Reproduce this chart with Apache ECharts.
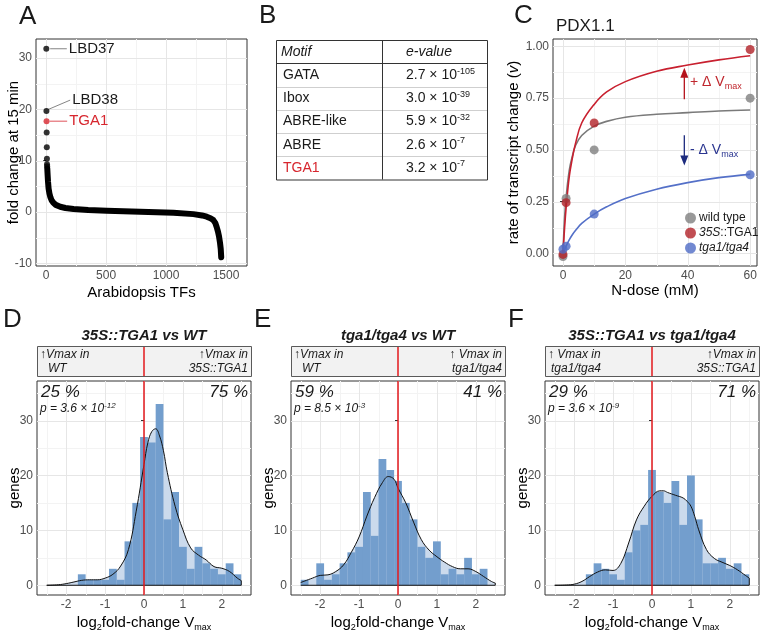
<!DOCTYPE html>
<html>
<head>
<meta charset="utf-8">
<script src="https://cdn.jsdelivr.net/npm/echarts@6/dist/echarts.min.js"></script>
<style>
html, body { margin: 0; padding: 0; background: #fff; }
#fig { width: 762px; height: 636px; }
</style>
</head>
<body>
<div id="fig"></div>
<script>
var FONT = 'Liberation Sans';
var RED = '#d7262e';

/* A - fold change of Arabidopsis TFs, ranked */
var tfTopRank = [1, 2, 4, 5, 6, 7, 8];
var tfTopFold = [31.8, 19.7, 15.5, 12.6, 10.4, 9.3, 8.9];
var tga1Point = [3, 17.7];
var tfBandRank = [9, 12, 15, 20, 27, 35, 45, 60, 80, 117, 160, 228, 350, 505, 783, 1061, 1228, 1300, 1339, 1370, 1394, 1410, 1422, 1433, 1442, 1450, 1456, 1460];
var tfBandFold = [8.5, 7.2, 6.0, 4.6, 3.6, 2.9, 2.3, 1.8, 1.4, 1.04, 0.8, 0.6, 0.4, 0.26, 0.06, -0.13, -0.4, -0.65, -0.9, -1.2, -1.56, -2.1, -2.9, -3.8, -4.8, -6.0, -7.2, -8.8];
var tfLabels = ['LBD37', 'LBD38', 'TGA1'];
var tfLabelFrom = [[33, 31.8], [19, 20.0], [30, 17.7]];
var tfLabelTo = [[172, 31.8], [200, 21.8], [175, 17.7]];

/* B - motif table */
var motifNames = ['GATA', 'Ibox', 'ABRE-like', 'ABRE', 'TGA1'];
var motifMant = ['2.7', '3.0', '5.9', '2.6', '3.2'];
var motifExp = ['-105', '-39', '-32', '-7', '-7'];

/* C - PDX1.1 rate vs N dose */
var doseObs = [0, 1, 10, 60];
var rateWT = [-0.015, 0.265, 0.50, 0.75];
var rate35S = [-0.005, 0.245, 0.63, 0.985];
var rateTga = [0.02, 0.035, 0.19, 0.38];
var doseFit = [0, 0.5, 1, 2, 3, 4, 6, 10, 14, 20, 30, 40, 50, 60];
var fitWT = [0, 0.17, 0.27, 0.40, 0.47, 0.52, 0.57, 0.615, 0.638, 0.658, 0.672, 0.68, 0.688, 0.693];
var fit35S = [0, 0.12, 0.22, 0.37, 0.46, 0.53, 0.63, 0.72, 0.78, 0.83, 0.88, 0.91, 0.935, 0.955];
var fitTga = [0, 0.018, 0.035, 0.065, 0.09, 0.11, 0.145, 0.19, 0.225, 0.265, 0.31, 0.342, 0.366, 0.382];

/* D-F - histograms of log2 fold-change Vmax */
var binMid = [-2.4, -2.2, -2.0, -1.8, -1.6, -1.4, -1.2, -1.0, -0.8, -0.6, -0.4, -0.2, 0, 0.2, 0.4, 0.6, 0.8, 1.0, 1.2, 1.4, 1.6, 1.8, 2.0, 2.2, 2.4];
var countsD = [0, 0, 0, 0, 2, 1, 1, 1, 3, 1, 8, 15, 27, 26, 33, 12, 17, 7, 3, 7, 4, 3, 2, 4, 2];
var countsE = [1, 0, 4, 1, 2, 4, 6, 7, 17, 9, 23, 21, 19, 15, 12, 7, 5, 8, 2, 3, 2, 5, 2, 3, 0];
var countsF = [0, 0, 0, 0, 2, 4, 3, 2, 1, 6, 10, 11, 21, 17, 15, 19, 11, 20, 12, 4, 4, 5, 3, 4, 2];
var densXD = [-2.5, -2.2, -2.0, -1.8, -1.6, -1.4, -1.2, -1.0, -0.8, -0.6, -0.4, -0.2, 0, 0.1, 0.2, 0.3, 0.4, 0.5, 0.6, 0.8, 1.0, 1.2, 1.4, 1.6, 1.8, 2.0, 2.2, 2.4, 2.5];
var densYD = [0, 0.1, 0.3, 0.6, 0.9, 1.0, 1.0, 1.3, 2.0, 3.5, 6.5, 13.5, 22, 26, 28, 28.5, 27.2, 24.5, 20.5, 14.4, 10.1, 6.8, 5.5, 4.6, 3.4, 3.1, 2.5, 1.3, 0.85];
var densXE = [-2.5, -2.2, -2.0, -1.8, -1.6, -1.4, -1.2, -1.0, -0.8, -0.6, -0.4, -0.25, -0.1, 0, 0.2, 0.4, 0.6, 0.8, 1.0, 1.2, 1.4, 1.6, 1.8, 2.0, 2.2, 2.4, 2.5];
var densYE = [0.5, 1.3, 1.8, 1.9, 2.5, 3.7, 6.0, 8.8, 12.6, 16.0, 18.7, 19.8, 19.3, 17.7, 15, 11.5, 8.3, 6.4, 5.2, 4.2, 3.4, 3.0, 3.0, 2.5, 1.6, 0.7, 0.4];
var densXF = [-2.5, -2.2, -2.0, -1.8, -1.6, -1.4, -1.2, -1.0, -0.8, -0.6, -0.4, -0.2, 0, 0.2, 0.3, 0.4, 0.6, 0.8, 0.9, 1.0, 1.1, 1.2, 1.4, 1.6, 1.8, 2.0, 2.2, 2.4, 2.5];
var densYF = [0, 0.05, 0.2, 0.7, 1.6, 2.4, 2.8, 2.7, 4.0, 7.7, 11.9, 14.4, 16.2, 17.2, 17.2, 16.9, 16.4, 15.9, 15.3, 14.4, 12.5, 10.1, 6.5, 4.9, 4.2, 3.6, 2.8, 1.8, 1.3];

var panels = [
    {title: '{b|35S::TGA1 vs WT}', counts: countsD, dx: densXD, dy: densYD,
     left: ['\u2191Vmax in', 'WT'], leftIndent: 11, right: ['\u2191Vmax in', '35S::TGA1'],
     pctL: '25 %', pctR: '75 %', pMant: '3.6', pExp: '-12'},
    {title: '{b|tga1/tga4 vs WT}', counts: countsE, dx: densXE, dy: densYE,
     left: ['\u2191Vmax in', 'WT'], leftIndent: 11, right: ['\u2191 Vmax in', 'tga1/tga4'],
     pctL: '59 %', pctR: '41 %', pMant: '8.5', pExp: '-3'},
    {title: '{b|35S::TGA1 vs tga1/tga4}', counts: countsF, dx: densXF, dy: densYF,
     left: ['\u2191 Vmax in', 'tga1/tga4'], leftIndent: 6, right: ['\u2191Vmax in', '35S::TGA1'],
     pctL: '29 %', pctR: '71 %', pMant: '3.6', pExp: '-9'}
];

var grids = [
    {left: 36, top: 39, width: 211, height: 227},
    {left: 553, top: 39, width: 204, height: 227},
    {left: 37, top: 381, width: 214, height: 214},
    {left: 291, top: 381, width: 214, height: 214},
    {left: 545, top: 381, width: 214, height: 214}
];

function zip(a, b) {
    return a.map(function (v, i) { return [v, b[i]]; });
}

function axis(gi, min, max, ticks, name, gap, fmt) {
    return {
        type: 'value', gridIndex: gi, min: min, max: max,
        axisLine: {show: false},
        axisTick: {show: true, length: 3, lineStyle: {color: '#333'}, customValues: ticks},
        axisLabel: {customValues: ticks, color: '#4d4d4d', fontSize: 12, fontFamily: FONT, margin: 4,
                    formatter: fmt || function (v) { return String(v); }},
        splitLine: {show: false},
        name: name, nameLocation: 'middle', nameGap: gap, nameMoveOverlap: false,
        nameTextStyle: {fontFamily: FONT, fontSize: 15, color: '#000',
            rich: {
                t: {fontFamily: FONT, fontSize: 15, color: '#000', lineHeight: 18},
                i: {fontFamily: FONT, fontSize: 15, color: '#000', fontStyle: 'italic', lineHeight: 18},
                s: {fontFamily: FONT, fontSize: 9, color: '#000', verticalAlign: 'bottom', lineHeight: 11}
            }}
    };
}

function gridLines(gi, mx, nx, my, ny) {
    var data = [];
    nx.forEach(function (v) { data.push([0, v, 1]); });
    ny.forEach(function (v) { data.push([1, v, 1]); });
    mx.forEach(function (v) { data.push([0, v, 0]); });
    my.forEach(function (v) { data.push([1, v, 0]); });
    return {
        type: 'custom', xAxisIndex: gi, yAxisIndex: gi, z: 1, silent: true, data: data,
        renderItem: function (params, api) {
            var cs = params.coordSys, v = api.value(1), minor = api.value(2) === 1, shape;
            if (api.value(0) === 0) {
                var x = Math.round(api.coord([v, 0])[0]) + 0.5;
                shape = {x1: x, y1: cs.y, x2: x, y2: cs.y + cs.height};
            } else {
                var y = Math.round(api.coord([0, v])[1]) + 0.5;
                shape = {x1: cs.x, y1: y, x2: cs.x + cs.width, y2: y};
            }
            return {type: 'line', shape: shape, style: {stroke: minor ? '#f3f3f3' : '#e6e6e6', lineWidth: 1}};
        }
    };
}

var xAxes = [], yAxes = [], series = [], graphic = [];

/* ---------- A ---------- */
xAxes.push(axis(0, -85, 1675, [0, 500, 1000, 1500], 'Arabidopsis TFs', 19));
yAxes.push(axis(0, -10.5, 33.7, [-10, 0, 10, 20, 30], 'fold change at 15 min', 15));
series.push(gridLines(0, [0, 500, 1000, 1500], [250, 750, 1250], [-10, 0, 10, 20, 30], [-5, 5, 15, 25]));
series.push({
    type: 'line', xAxisIndex: 0, yAxisIndex: 0, z: 3, silent: true, symbol: 'none',
    data: zip(tfBandRank, tfBandFold),
    lineStyle: {color: '#000', width: 6, cap: 'round', join: 'round'}
});
series.push({
    type: 'scatter', xAxisIndex: 0, yAxisIndex: 0, z: 3, silent: true, symbolSize: 6,
    data: zip(tfTopRank, tfTopFold), itemStyle: {color: '#000'}
});
series.push({
    type: 'scatter', xAxisIndex: 0, yAxisIndex: 0, z: 4, silent: true, symbolSize: 6,
    data: [tga1Point], itemStyle: {color: RED}
});
tfLabels.forEach(function (lab, i) {
    var isRed = lab === 'TGA1';
    series.push({
        type: 'line', xAxisIndex: 0, yAxisIndex: 0, z: 2, silent: true, symbol: 'none',
        data: [tfLabelFrom[i], tfLabelTo[i]],
        lineStyle: {color: isRed ? RED : '#666', width: 0.8},
        endLabel: {show: true, formatter: lab, fontFamily: FONT, fontSize: 15,
                   color: isRed ? RED : '#1a1a1a', distance: 2}
    });
});

/* ---------- C ---------- */
var cWT = '#7f7f7f', c35 = '#b22228', cTga = '#4f6cc6';
xAxes.push(axis(1, -3.2, 62.2, [0, 20, 40, 60], 'N-dose (mM)', 17));
yAxes.push(axis(1, -0.061, 1.036, [0, 0.25, 0.5, 0.75, 1], '{t|rate of transcript change (}{i|v}{t|)}', 30,
    function (v) { return v.toFixed(2); }));
series.push(gridLines(1, [0, 20, 40, 60], [10, 30, 50], [0, 0.25, 0.5, 0.75, 1], [0.125, 0.375, 0.625, 0.875]));
[[fitWT, '#7a7a7a'], [fit35S, '#c8202f'], [fitTga, '#5470c8']].forEach(function (f) {
    series.push({
        type: 'line', xAxisIndex: 1, yAxisIndex: 1, z: 3, silent: true, symbol: 'none', smooth: 0.4,
        data: zip(doseFit, f[0]), lineStyle: {color: f[1], width: 1.6}
    });
});
[['wild type', rateWT, cWT], ['35S::TGA1', rate35S, c35], ['tga1/tga4', rateTga, cTga]].forEach(function (s) {
    series.push({
        type: 'scatter', name: s[0], xAxisIndex: 1, yAxisIndex: 1, z: 4, silent: true, symbolSize: 9,
        data: zip(doseObs, s[1]), itemStyle: {color: s[2]}
    });
});
series.push({
    type: 'line', xAxisIndex: 1, yAxisIndex: 1, z: 4, silent: true,
    data: [{value: [38.9, 0.745], symbol: 'none'}, {value: [38.9, 0.873], symbol: 'triangle', symbolSize: [8, 10]}],
    lineStyle: {color: '#b5121b', width: 1.3}, itemStyle: {color: '#b5121b'}
});
series.push({
    type: 'line', xAxisIndex: 1, yAxisIndex: 1, z: 4, silent: true,
    data: [{value: [38.9, 0.571], symbol: 'none'}, {value: [38.9, 0.449], symbol: 'triangle', symbolSize: [8, 10], symbolRotate: 180}],
    lineStyle: {color: '#1d2b7e', width: 1.3}, itemStyle: {color: '#1d2b7e'}
});

/* ---------- D-F ---------- */
var BIN = binMid[1] - binMid[0];
panels.forEach(function (p, k) {
    var gi = 2 + k, g = grids[gi];
    xAxes.push(axis(gi, -2.75, 2.75, [-2, -1, 0, 1, 2], '{t|log}{s|2}{t|fold-change V}{s|max}', 19));
    yAxes.push(axis(gi, -1.77, 37.2, [0, 10, 20, 30], 'genes', 15));
    series.push(gridLines(gi, [-2, -1, 0, 1, 2], [-2.5, -1.5, -0.5, 0.5, 1.5, 2.5], [0, 10, 20, 30], [5, 15, 25, 35]));
    series.push({
        type: 'line', xAxisIndex: gi, yAxisIndex: gi, z: 2, silent: true, symbol: 'none', smooth: 0.4,
        data: zip(p.dx, p.dy), lineStyle: {width: 0, opacity: 0},
        areaStyle: {color: '#cbdaec', opacity: 1}
    });
    series.push({
        type: 'custom', xAxisIndex: gi, yAxisIndex: gi, z: 3, silent: true,
        data: zip(binMid, p.counts),
        renderItem: function (params, api) {
            var c = api.value(0), n = api.value(1);
            var a = api.coord([c - BIN / 2, n]), b = api.coord([c + BIN / 2, 0]);
            return {type: 'rect', shape: {x: a[0], y: a[1], width: b[0] - a[0], height: b[1] - a[1]},
                    style: {fill: '#739ecd'}};
        }
    });
    series.push({
        type: 'line', xAxisIndex: gi, yAxisIndex: gi, z: 4, silent: true, symbol: 'none', smooth: 0.4,
        data: zip(p.dx, p.dy), lineStyle: {color: '#111', width: 1}
    });
    var last = p.dx.length - 1;
    series.push({
        type: 'line', xAxisIndex: gi, yAxisIndex: gi, z: 4, silent: true, symbol: 'none',
        data: [[p.dx[0], 0], [p.dx[last], 0], [p.dx[last], p.dy[last]]], lineStyle: {color: '#111', width: 1}
    });
    series.push({
        type: 'custom', xAxisIndex: gi, yAxisIndex: gi, z: 5, silent: true, data: [[0, 0]],
        renderItem: function (params, api) {
            var cs = params.coordSys, x = api.coord([api.value(0), 0])[0];
            return {type: 'line', shape: {x1: x, y1: cs.y, x2: x, y2: cs.y + cs.height},
                    style: {stroke: '#e3191c', lineWidth: 1.5}};
        }
    });

    // strip above the panel
    var cx = g.left + g.width / 2, right = g.left + g.width;
    graphic.push({type: 'rect', z: 10, shape: {x: g.left + 0.5, y: 346.5, width: g.width, height: 30},
                  style: {fill: '#f2f2f2', stroke: '#5a5a5a', lineWidth: 1}});
    graphic.push({type: 'line', z: 11, shape: {x1: cx, y1: 347, x2: cx, y2: 376},
                  style: {stroke: '#e3191c', lineWidth: 1.5}});
    var st = {fontFamily: FONT, fontSize: 12, fontStyle: 'italic', fill: '#1a1a1a', textVerticalAlign: 'middle'};
    graphic.push({type: 'text', z: 11, style: Object.assign({text: p.left[0], x: g.left + 3, y: 354.5, textAlign: 'left'}, st)});
    graphic.push({type: 'text', z: 11, style: Object.assign({text: p.left[1], x: g.left + p.leftIndent, y: 369, textAlign: 'left'}, st)});
    graphic.push({type: 'text', z: 11, style: Object.assign({text: p.right[0], x: right - 3, y: 354.5, textAlign: 'right'}, st)});
    graphic.push({type: 'text', z: 11, style: Object.assign({text: p.right[1], x: right - 3, y: 369, textAlign: 'right'}, st)});
    // title
    graphic.push({type: 'text', z: 11, style: {text: p.title, x: cx, y: 336, textAlign: 'center', textVerticalAlign: 'middle',
        rich: {b: {fontFamily: FONT, fontSize: 15, fontStyle: 'italic', fontWeight: 'bold', fill: '#1a1a1a'}}}});
    // percentages and p-value
    var pst = {fontFamily: FONT, fontSize: 17, fontStyle: 'italic', fill: '#1a1a1a', textVerticalAlign: 'middle'};
    graphic.push({type: 'text', z: 11, style: Object.assign({text: p.pctL, x: g.left + 4, y: 392, textAlign: 'left'}, pst)});
    graphic.push({type: 'text', z: 11, style: Object.assign({text: p.pctR, x: right - 3, y: 392, textAlign: 'right'}, pst)});
    graphic.push({type: 'text', z: 11, style: {
        text: '{n|p = ' + p.pMant + ' \u00d7 10}{e|' + p.pExp + '}', x: g.left + 3, y: 409,
        textAlign: 'left', textVerticalAlign: 'middle',
        rich: {n: {fontFamily: FONT, fontSize: 12, fontStyle: 'italic', fill: '#1a1a1a', lineHeight: 15},
               e: {fontFamily: FONT, fontSize: 8, fontStyle: 'italic', fill: '#1a1a1a', verticalAlign: 'top', lineHeight: 9}}}});
});

/* ---------- B table ---------- */
var tX0 = 276, tX1 = 487, tXm = 382, tTop = 40, tHead = 63.5, tRow = 23.2;
var tBottom = tHead + tRow * motifNames.length;
graphic.push({type: 'rect', z: 10, shape: {x: tX0 + 0.5, y: tTop + 0.5, width: tX1 - tX0, height: tBottom - tTop},
              style: {fill: '#fff', stroke: '#333', lineWidth: 1}});
for (var r = 1; r < motifNames.length; r++) {
    var ly = Math.round(tHead + tRow * r) + 0.5;
    graphic.push({type: 'line', z: 11, shape: {x1: tX0 + 1, y1: ly, x2: tX1, y2: ly}, style: {stroke: '#cfcfcf', lineWidth: 1}});
}
graphic.push({type: 'line', z: 12, shape: {x1: tX0, y1: tHead, x2: tX1, y2: tHead}, style: {stroke: '#333', lineWidth: 1}});
graphic.push({type: 'line', z: 12, shape: {x1: tXm + 0.5, y1: tTop, x2: tXm + 0.5, y2: tBottom}, style: {stroke: '#333', lineWidth: 1}});
var hst = {fontFamily: FONT, fontSize: 14, fontStyle: 'italic', fill: '#1a1a1a', textVerticalAlign: 'middle', textAlign: 'left'};
graphic.push({type: 'text', z: 12, style: Object.assign({text: 'Motif', x: tX0 + 5, y: (tTop + tHead) / 2}, hst)});
graphic.push({type: 'text', z: 12, style: Object.assign({text: 'e-value', x: tXm + 24, y: (tTop + tHead) / 2}, hst)});
motifNames.forEach(function (m, i) {
    var cy = tHead + tRow * (i + 0.5);
    graphic.push({type: 'text', z: 12, style: {text: m, x: tX0 + 7, y: cy, fontFamily: FONT, fontSize: 14,
        fill: m === 'TGA1' ? RED : '#1a1a1a', textVerticalAlign: 'middle', textAlign: 'left'}});
    graphic.push({type: 'text', z: 12, style: {text: '{n|' + motifMant[i] + ' \u00d7 10}{e|' + motifExp[i] + '}',
        x: tXm + 24, y: cy, textVerticalAlign: 'middle', textAlign: 'left',
        rich: {n: {fontFamily: FONT, fontSize: 14, fill: '#1a1a1a', lineHeight: 17},
               e: {fontFamily: FONT, fontSize: 9, fill: '#1a1a1a', verticalAlign: 'top', lineHeight: 10}}}});
});

/* ---------- C annotations ---------- */
graphic.push({type: 'text', z: 12, style: {text: '{a|+ \u0394 V}{s|max}', x: 690, y: 82, textVerticalAlign: 'middle', textAlign: 'left',
    rich: {a: {fontFamily: FONT, fontSize: 14, fill: '#c0262d', lineHeight: 18},
           s: {fontFamily: FONT, fontSize: 9, fill: '#c0262d', verticalAlign: 'bottom', lineHeight: 11}}}});
graphic.push({type: 'text', z: 12, style: {text: '{a|- \u0394 V}{s|max}', x: 690, y: 150, textVerticalAlign: 'middle', textAlign: 'left',
    rich: {a: {fontFamily: FONT, fontSize: 14, fill: '#2a3590', lineHeight: 18},
           s: {fontFamily: FONT, fontSize: 9, fill: '#2a3590', verticalAlign: 'bottom', lineHeight: 11}}}});
graphic.push({type: 'text', z: 12, style: {text: 'PDX1.1', x: 556, y: 26, fontFamily: FONT, fontSize: 17,
    fill: '#1a1a1a', textVerticalAlign: 'middle', textAlign: 'left'}});

/* ---------- panel letters ---------- */
[['A', 19, 17], ['B', 259, 16], ['C', 514, 16], ['D', 3, 320], ['E', 254, 320], ['F', 508, 320]].forEach(function (l) {
    graphic.push({type: 'text', z: 12, style: {text: l[0], x: l[1], y: l[2], fontFamily: FONT, fontSize: 26,
        fill: '#1a1a1a', textVerticalAlign: 'middle', textAlign: 'left'}});
});

var chart = echarts.init(document.getElementById('fig'));
chart.setOption({
    animation: false,
    backgroundColor: '#fff',
    textStyle: {fontFamily: FONT},
    grid: grids.map(function (g) {
        return {left: g.left, top: g.top, width: g.width, height: g.height, show: true,
                borderColor: '#333', borderWidth: 1, backgroundColor: 'transparent',
                containLabel: false, outerBoundsMode: 'none'};
    }),
    xAxis: xAxes,
    yAxis: yAxes,
    legend: {
        data: ['wild type', '35S::TGA1', 'tga1/tga4'],
        orient: 'vertical', left: 680, top: 207, itemGap: 3, itemWidth: 11, itemHeight: 11,
        icon: 'circle', selectedMode: false,
        textStyle: {fontFamily: FONT, fontSize: 12, color: '#1a1a1a', padding: [0, 0, 0, -2],
            rich: {i: {fontFamily: FONT, fontSize: 12, fontStyle: 'italic', color: '#1a1a1a'},
                   n: {fontFamily: FONT, fontSize: 12, color: '#1a1a1a'}}},
        formatter: function (name) {
            if (name === '35S::TGA1') return '{i|35S}{n|::TGA1}';
            if (name === 'tga1/tga4') return '{i|tga1/tga4}';
            return '{n|' + name + '}';
        }
    },
    series: series,
    graphic: graphic
});
</script>
</body>
</html>
